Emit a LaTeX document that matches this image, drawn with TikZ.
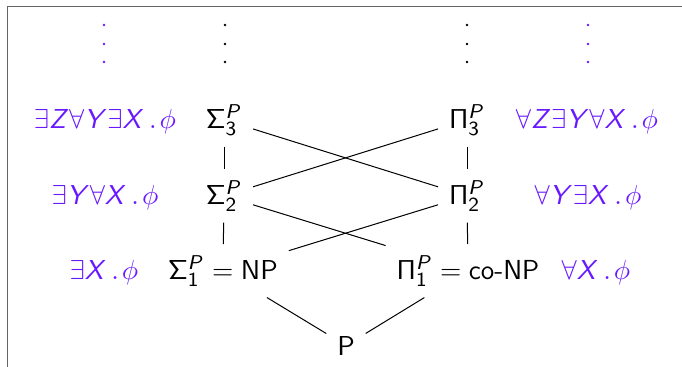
\documentclass[tikz,border=0pt]{standalone}
\usepackage{amsmath}
\DeclareMathAlphabet{\mathsfit}{OT1}{cmss}{m}{sl}
\definecolor{fcol}{RGB}{105,25,255}
\definecolor{framecol}{RGB}{100,100,100}
\newcommand\qsig[1]{\mathsf{\Sigma}^{\mathsfit{P}}_{\mathsf{#1}}}
\newcommand\qpi[1]{\mathsf{\Pi}^{\mathsfit{P}}_{\mathsf{#1}}}
\newcommand\qv[1]{\mathsfit{#1}}
\newcommand\qdot{\mkern3mu.\mkern2mu}
\tikzset{
  cls/.style={inner sep=4.2pt, anchor=base},
  lbl/.style={text=fcol, inner sep=0pt, anchor=base},
  link/.style={line width=0.4pt, black},
  dotmark/.style={radius=1.4}
}
\begin{document}
\begin{tikzpicture}[x=0.4pt,y=-0.4pt,font=\fontsize{11}{13.6}\selectfont]
\useasboundingbox (0,0) rectangle (682,367);
\draw[framecol, line width=0.75pt] (7.5,367) -- (7.5,6.5) -- (682,6.5);
% vertical dots
\foreach \x/\c in {104/fcol,225/black,467/black,588/fcol}
  \foreach \y in {25,44,62}
    \fill[\c] (\x,\y) circle[dotmark];
% class nodes
\node[cls] (s3) at (224,128) {$\qsig{3}$};
\node[cls] (s2) at (224,204) {$\qsig{2}$};
\node[cls] (s1) at (223,279) {$\qsig{1} = \mathsf{NP}$};
\node[cls] (p3) at (467,128) {$\qpi{3}$};
\node[cls] (p2) at (467,204) {$\qpi{2}$};
\node[cls] (p1) at (468,279) {$\qpi{1} = \mbox{\sffamily co-NP}$};
\node[cls] (p) at (346,355) {$\mathsf{P}$};
% formula labels
\node[lbl] (l3) at (105,128) {$\exists\qv{Z}\forall\qv{Y}\exists\qv{X}\qdot\phi$};
\node[lbl] (l2) at (105,204) {$\exists\qv{Y}\forall\qv{X}\qdot\phi$};
\node[lbl] (l1) at (104,279) {$\exists\qv{X}\qdot\phi$};
\node[lbl] (r3) at (587,128) {$\forall\qv{Z}\exists\qv{Y}\forall\qv{X}\qdot\phi$};
\node[lbl] (r2) at (588,204) {$\forall\qv{Y}\exists\qv{X}\qdot\phi$};
\node[lbl] (r1) at (596,279) {$\forall\qv{X}\qdot\phi$};
% connectors
\draw[link] (s3) -- (s2);
\draw[link] (s2) -- (s1);
\draw[link] (p3) -- (p2);
\draw[link] (p2) -- (p1);
\draw[link] (s3) -- (p2);
\draw[link] (s2) -- (p3);
\draw[link] (s2) -- (p1);
\draw[link] (p2) -- (s1);
\draw[link] (s1) -- (p);
\draw[link] (p1) -- (p);
\end{tikzpicture}
\end{document}
